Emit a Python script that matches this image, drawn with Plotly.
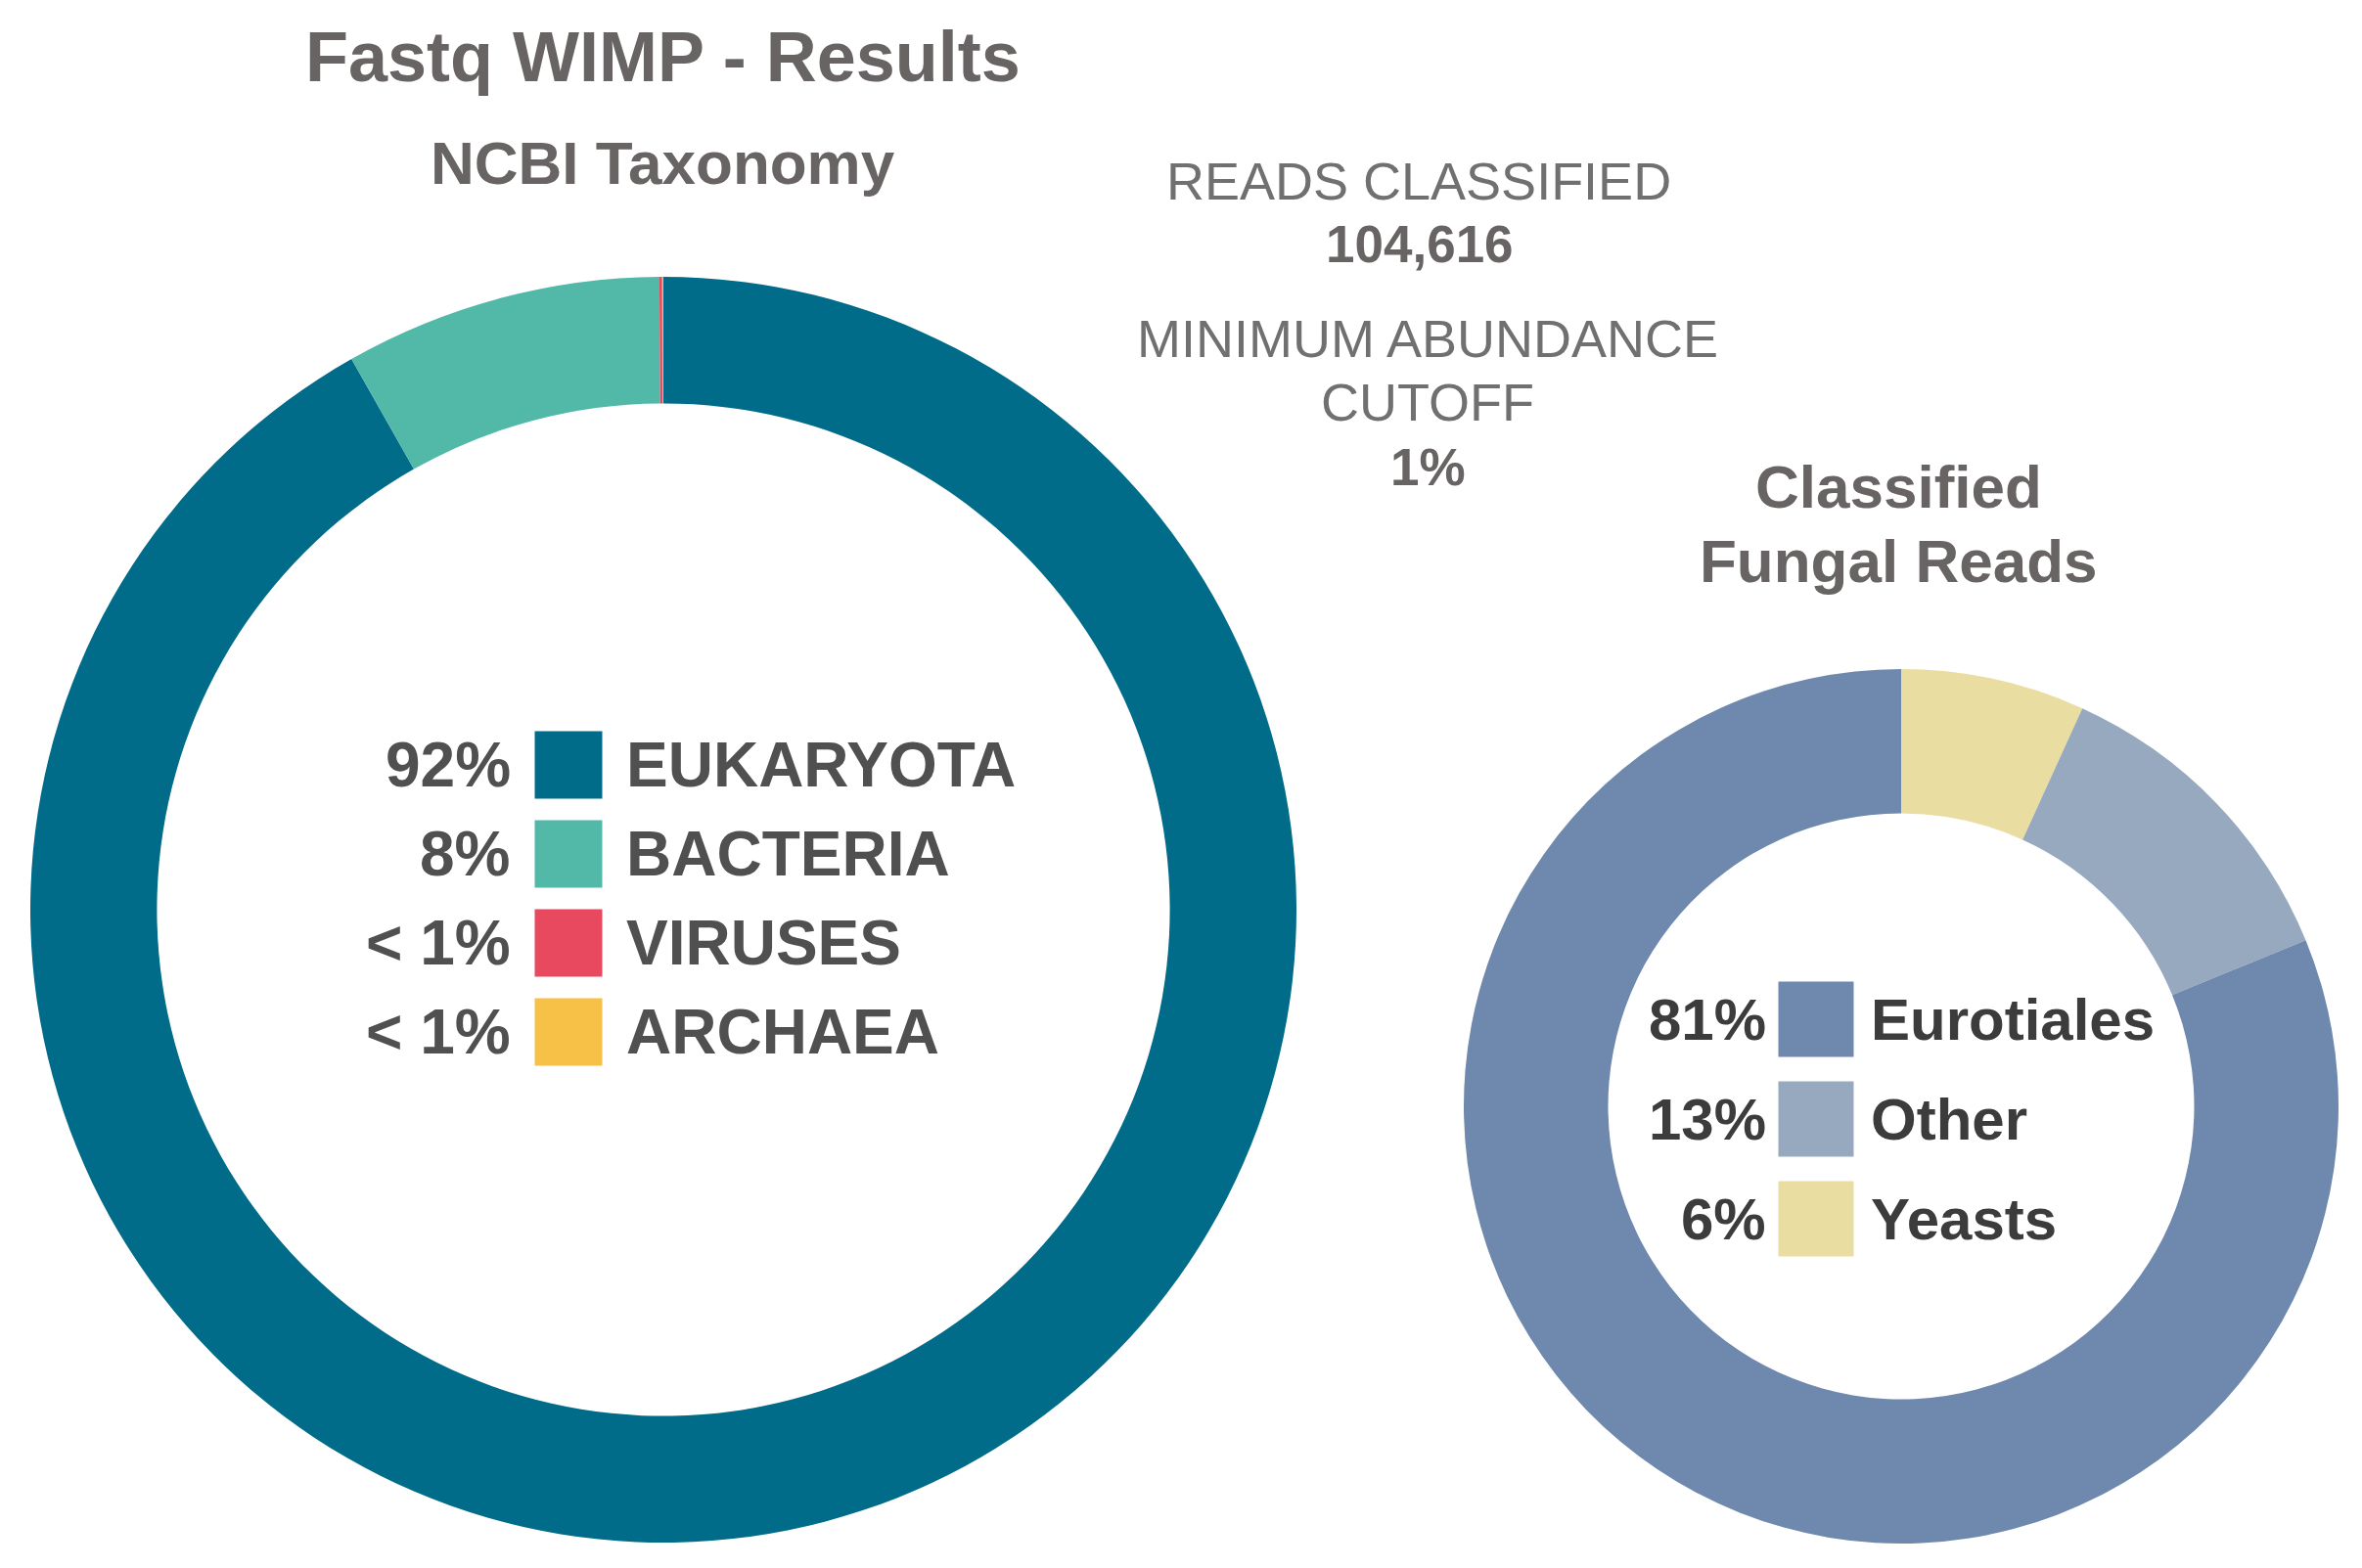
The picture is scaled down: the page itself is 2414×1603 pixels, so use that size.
import plotly.graph_objects as go

W, H = 2414, 1603

# ---------------- data ----------------
left_labels = ["EUKARYOTA", "BACTERIA", "VIRUSES", "ARCHAEA"]
left_values = [91.8, 8.1, 0.07, 0.03]
left_pct_text = ["92%", "8%", "< 1%", "< 1%"]
left_colors = ["#006C89", "#52B9A9", "#E8495F", "#F7C046"]

right_labels = ["Eurotiales", "Other", "Yeasts"]
right_values = [81.2, 12.0, 6.8]
right_pct_text = ["81%", "13%", "6%"]
right_colors = ["#6F88AD", "#97A9BF", "#E9DDA2"]

title_text = "Fastq WIMP - Results"
left_title = "NCBI Taxonomy"
right_title_lines = ["Classified", "Fungal Reads"]
reads_label = "READS CLASSIFIED"
reads_value = "104,616"
cutoff_lines = ["MINIMUM ABUNDANCE", "CUTOFF"]
cutoff_value = "1%"

FONT = "Liberation Sans, Arial, sans-serif"


def dom_x(cx, r):
    return [(cx - r) / W, (cx + r) / W]


def dom_y(cy, r):
    return [1 - (cy + r) / H, 1 - (cy - r) / H]


fig = go.Figure()

# left donut (clockwise from 12 o'clock)
L_CX, L_CY, L_R = 678, 930, 647
fig.add_trace(go.Pie(
    labels=left_labels, values=left_values, sort=False,
    direction="clockwise", rotation=0, hole=0.80,
    marker=dict(colors=left_colors, line=dict(width=0)),
    textinfo="none", showlegend=False,
    domain=dict(x=dom_x(L_CX, L_R), y=dom_y(L_CY, L_R)),
))

# right donut: slices run counter-clockwise from 12 o'clock in legend order,
# drawn clockwise in reversed order
R_CX, R_CY, R_R = 1943, 1131, 447
fig.add_trace(go.Pie(
    labels=right_labels[::-1], values=right_values[::-1], sort=False,
    direction="clockwise", rotation=0, hole=0.67,
    marker=dict(colors=right_colors[::-1], line=dict(width=0)),
    textinfo="none", showlegend=False,
    domain=dict(x=dom_x(R_CX, R_R), y=dom_y(R_CY, R_R)),
))

annotations = []


def add_legend(labels, pct, colors, sq_x, y0, dy, sq_size, pct_right, name_left, fsize, color):
    ys = [y0 + i * dy for i in range(len(labels))]
    fig.add_trace(go.Scatter(
        x=[sq_x] * len(labels), y=ys, mode="markers",
        marker=dict(symbol="square", size=sq_size, color=colors, line=dict(width=0)),
        showlegend=False, hoverinfo="skip", xaxis="x", yaxis="y",
    ))
    for i, (lab, p) in enumerate(zip(labels, pct)):
        annotations.append(dict(
            x=pct_right, y=ys[i], xref="x", yref="y", text=f"<b>{p}</b>",
            showarrow=False, xanchor="right", yanchor="middle",
            font=dict(family=FONT, size=fsize, color=color)))
        annotations.append(dict(
            x=name_left, y=ys[i], xref="x", yref="y", text=f"<b>{lab}</b>",
            showarrow=False, xanchor="left", yanchor="middle",
            font=dict(family=FONT, size=fsize, color=color)))


add_legend(left_labels, left_pct_text, left_colors, sq_x=581, y0=782, dy=91,
           sq_size=69, pct_right=524, name_left=638, fsize=64, color="#505050")
add_legend(right_labels, right_pct_text, right_colors, sq_x=1856, y0=1042, dy=102,
           sq_size=77, pct_right=1807, name_left=1910, fsize=60, color="#3C3C3C")


def text_ann(x, y, text, size, color, bold=False):
    annotations.append(dict(
        x=x, y=y, xref="x", yref="y",
        text=f"<b>{text}</b>" if bold else text,
        showarrow=False, xanchor="center", yanchor="middle",
        font=dict(family=FONT, size=size, color=color)))


TITLE_C = "#686464"
INFO_C = "#707070"
text_ann(677, 58, title_text, 72, TITLE_C, bold=True)
text_ann(677, 166, left_title, 62, TITLE_C, bold=True)
text_ann(1940, 497, right_title_lines[0], 62, TITLE_C, bold=True)
text_ann(1940, 573, right_title_lines[1], 62, TITLE_C, bold=True)
text_ann(1450, 185, reads_label, 54, INFO_C)
text_ann(1451, 249, reads_value, 53, TITLE_C, bold=True)
text_ann(1459, 346, cutoff_lines[0], 54, INFO_C)
text_ann(1459, 411, cutoff_lines[1], 54, INFO_C)
text_ann(1459, 477, cutoff_value, 53, TITLE_C, bold=True)

fig.update_layout(
    width=W, height=H,
    margin=dict(l=0, r=0, t=0, b=0),
    paper_bgcolor="white", plot_bgcolor="rgba(0,0,0,0)",
    xaxis=dict(range=[0, W], domain=[0, 1], visible=False, fixedrange=True),
    yaxis=dict(range=[H, 0], domain=[0, 1], visible=False, fixedrange=True),
    annotations=annotations,
    font=dict(family=FONT),
)

fig.write_html("out.html", config={"displayModeBar": False},
               post_script="document.body.style.margin='0px';")
